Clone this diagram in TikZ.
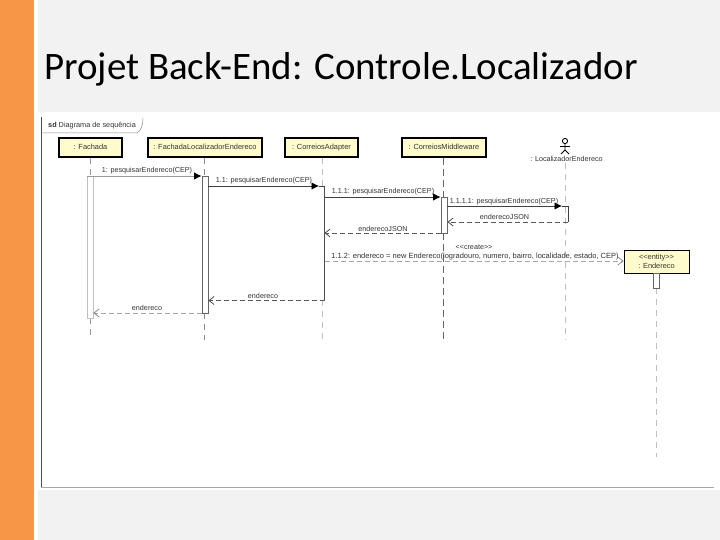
\documentclass[tikz,border=0pt]{standalone}
\usepackage{fontspec}
\setmainfont{Liberation Sans}
\newfontfamily\titlefont{Carlito}
\usetikzlibrary{arrows.meta,calc}
\definecolor{oran}{HTML}{F79646}
\definecolor{bgg}{HTML}{F2F2F2}
\definecolor{boxy}{HTML}{FFFBCC}
\tikzset{
 x=1pt,y=-1pt,
 lifebox/.style={draw=black,line width=1.1pt,fill=boxy,inner sep=0pt,font=\fontsize{7.4}{9}\selectfont,text=black!80,align=center},
 lab/.style={inner sep=0pt,font=\fontsize{7.2}{9}\selectfont,text=black!80},
 life/.style={draw=black!25,line width=.7pt,dash pattern=on 6pt off 5pt},
 lifedark/.style={draw=black!60,line width=.9pt,dash pattern=on 7pt off 4pt},
 callm/.style={draw=black!75,line width=.8pt,-{Latex[length=7.5pt,width=7.5pt,black]}},
 callend/.style={draw=black!75,line width=.8pt},
 retm/.style={draw=black!65,line width=.8pt,dash pattern=on 5pt off 3pt,-{Straight Barb[length=5pt,width=8pt,black!70]}},
 retlight/.style={draw=black!35,line width=.7pt,dash pattern=on 5pt off 3pt,-{Straight Barb[length=5pt,width=8pt,black!50]}},
 activ/.style={draw=black!30,line width=.6pt,fill=white},
 activdark/.style={draw=black!60,line width=.9pt,fill=white},
}
\begin{document}
\begin{tikzpicture}
\useasboundingbox (0,0) rectangle (720,540);
\fill[bgg] (0,0) rectangle (720,540);
\fill[white] (34,0) rectangle (38,540);
\fill[oran] (0,0) rectangle (34,540);
\fill[white] (38,112) rectangle (720,490);
\node[anchor=base west,inner sep=0pt,font=\fontsize{38.9}{42}\selectfont\titlefont,text=black] (title) at (44,80) {Projet Back-End: Controle.Localizador};
% frame
\draw[black!70,line width=.8pt] (41,117) -- (41,487);
\draw[black!35,line width=.8pt] (41,487) -- (714,487);
\draw[black!45,line width=.5pt] (41,133) -- (137,133) .. controls (141,131) and (143,125) .. (143,118);
\node[lab,anchor=base west,font=\fontsize{7.3}{9}\selectfont] (frm) at (48,128) {\textbf{sd} Diagrama de sequência};
% lifelines heads
\node[lifebox,minimum width=63pt,minimum height=19pt] (a) at (90.5,147.5) {\strut : Fachada};
\node[lifebox,minimum width=114pt,minimum height=19pt] (b) at (205,147.5) {\strut : FachadaLocalizadorEndereco};
\node[lifebox,minimum width=73pt,minimum height=19pt] (c) at (321.5,147.5) {\strut : CorreiosAdapter};
\node[lifebox,minimum width=84pt,minimum height=19pt] (d) at (444,147.5) {\strut : CorreiosMiddleware};
\node[lifebox,line width=1pt,minimum width=65pt,minimum height=23pt] (f) at (656.5,261.5) {{<}{<}entity{>}{>}\\: Endereco};
% actor
\coordinate (eh) at (565,141);
\draw[black,line width=.9pt] (eh) circle (2.6pt);
\draw[black,line width=.9pt] (565,143.6) -- (565,150) (560,146.5) -- (570,146.5) (561,154) -- (565,150) -- (569,154);
\node[lab,anchor=center] (e) at (566.5,158.5) {: LocalizadorEndereco};
% lifeline anchors
\coordinate (a1) at (90,176); \coordinate (a2) at (90,318); \coordinate (a3) at (90,340);
\coordinate (b1) at (204,176); \coordinate (b2) at (204,313); \coordinate (b3) at (204,340);
\coordinate (c1) at (322,186); \coordinate (c2) at (322,300); \coordinate (c3) at (322,340);
\coordinate (d1) at (443.5,197); \coordinate (d2) at (443.5,233); \coordinate (d3) at (443.5,340);
\coordinate (e1) at (565,163); \coordinate (e3) at (565,340);
\coordinate (f1) at (656.5,288); \coordinate (f3) at (656.5,457);
\draw[life,draw=black!40] (a.south -| a1) -- (a1) (a2) -- (a3);
\draw[life,draw=black!45] (b.south -| b1) -- (b1) (b2) -- (b3);
\draw[life] (c.south -| c1) -- (c1) (c2) -- (c3);
\draw[lifedark] (d.south -| d1) -- (d1) (d2) -- (d3);
\draw[life] (e1) -- (e3);
\draw[life] (f1) -- (f3);
% activations
\node[activ,draw=black!25,minimum width=5.5pt,minimum height=142pt,inner sep=0pt] (aa) at (90.5,247) {};
\node[activdark,minimum width=6pt,minimum height=137pt,inner sep=0pt] (ab) at (205,244.5) {};
\node[activdark,draw=black!60,minimum width=6pt,minimum height=36pt,inner sep=0pt] (ad) at (444,215) {};
\node[activ,draw=black!60,minimum width=6pt,minimum height=15pt,inner sep=0pt] (af) at (656.5,280.5) {};
% adapter activation: only left edge visible
\coordinate (ac1) at (324.5,186); \coordinate (ac2) at (324.5,300.5);
\draw[black!70,line width=.9pt] (ac1) -- (ac2);
% messages
\coordinate (p1) at (ab.west |- 0,176);
\draw[callm,draw=black!40] (aa.west |- 0,176) -- (p1);
\node[lab] (m1) at (147,171) {1: pesquisarEndereco(CEP)};
\coordinate (p2) at (319,186);
\draw[callm] (ab.east |- 0,186) -- (p2);
\draw[callend] (p2) -- (ac1);
\node[lab] (m2) at (264,181) {1.1: pesquisarEndereco(CEP)};
\coordinate (p3) at (ad.west |- 0,197);
\draw[callm] (ac1 |- 0,197) -- (p3);
\node[lab] (m3) at (383,191.5) {1.1.1: pesquisarEndereco(CEP)};
\coordinate (p4) at (562,206);
\coordinate (p4b) at (568,206);
\coordinate (p4c) at (568,222);
\draw[callm] (ad.east |- 0,206) -- (p4);
\draw[callend] (p4) -- (p4b) -- (p4c);
\node[lab] (m4) at (504,202) {1.1.1.1: pesquisarEndereco(CEP)};
\draw[retm] (p4c) -- (ad.east |- 0,222);
\node[lab] (m5) at (504.5,217) {enderecoJSON};
\draw[retm] (ad.west |- 0,233) -- (ac1 |- 0,233);
\node[lab] (m6) at (383,229) {enderecoJSON};
\node[lab] (m7) at (474,247) {{<}{<}create{>}{>}};
\draw[retlight] (ac1 |- 0,261) -- (f.west |- 0,261);
\node[lab,font=\fontsize{7.5}{9}\selectfont] (m8) at (475,256.5) {1.1.2: endereco = new Endereco(logradouro, numero, bairro, localidade, estado, CEP)};
\draw[retm] (ac1 |- 0,300.5) -- (ab.east |- 0,300.5);
\node[lab] (m9) at (263,296) {endereco};
\draw[retlight] (ab.west |- 0,313) -- (aa.east |- 0,313);
\node[lab] (m10) at (147,308) {endereco};
\end{tikzpicture}
\end{document}
